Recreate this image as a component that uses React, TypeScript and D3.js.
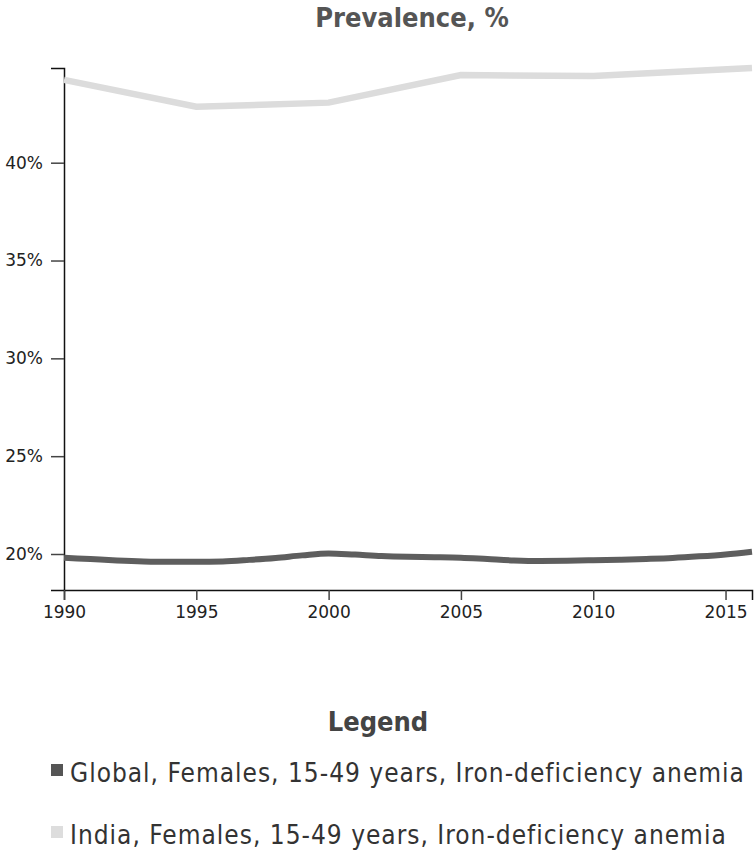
import React, { useEffect, useRef } from "react";
import * as d3 from "d3";

const years = [
  1990, 1991, 1992, 1993, 1994, 1995, 1996, 1997, 1998, 1999, 2000, 2001, 2002,
  2003, 2004, 2005, 2006, 2007, 2008, 2009, 2010, 2011, 2012, 2013, 2014, 2015,
  2016,
];
const globalValues = [
  19.81, 19.74, 19.67, 19.62, 19.6, 19.6, 19.62, 19.7, 19.8, 19.93, 20.03,
  19.97, 19.9, 19.86, 19.84, 19.81, 19.74, 19.67, 19.64, 19.65, 19.68, 19.71,
  19.75, 19.8, 19.88, 19.98, 20.12,
];
const indiaYears = [1990, 1995, 2000, 2005, 2010, 2016];
const indiaValues = [44.23, 42.86, 43.07, 44.48, 44.43, 44.84];

const yTicks = [20, 25, 30, 35, 40];
const xTicks = [1990, 1995, 2000, 2005, 2010, 2015];

const seriesNames = [
  "Global, Females, 15-49 years, Iron-deficiency anemia",
  "India, Females, 15-49 years, Iron-deficiency anemia",
];
const seriesColors = ["#5e5e5e", "#dcdcdc"];

export default function App() {
  const ref = useRef<SVGSVGElement>(null);

  useEffect(() => {
    const svg = d3.select(ref.current);
    svg.selectAll("*").remove();

    const margin = { top: 68, right: 4, bottom: 262, left: 64 };
    const width = 756;
    const height = 852;

    const x = d3
      .scaleLinear()
      .domain([1990, 2016])
      .range([margin.left, width - margin.right]);
    const y = d3
      .scaleLinear()
      .domain([18.16, 44.84])
      .range([height - margin.bottom, margin.top]);

    // title
    svg
      .append("text")
      .attr("x", 412)
      .attr("y", 27)
      .attr("text-anchor", "middle")
      .attr("font-family", "'Liberation Sans Narrow', 'DejaVu Sans Condensed', sans-serif")
      .attr("font-weight", "bold")
      .attr("font-size", 27)
      .attr("fill", "#555")
      .text("Prevalence, %");

    // y axis
    const yAxis = svg
      .append("g")
      .attr("transform", `translate(${margin.left},0)`)
      .call(
        d3
          .axisLeft(y)
          .tickValues(yTicks)
          .tickSize(13)
          .tickPadding(8)
          .tickFormat((d) => `${d}%`)
      );

    // x axis
    const xAxis = svg
      .append("g")
      .attr("transform", `translate(0,${height - margin.bottom})`)
      .call(
        d3
          .axisBottom(x)
          .tickValues(xTicks)
          .tickSize(10)
          .tickPadding(6)
          .tickFormat(d3.format("d"))
      );

    [yAxis, xAxis].forEach((g) => {
      g.select(".domain").attr("stroke", "#111").attr("stroke-width", 1.5);
      g.selectAll(".tick line").attr("stroke", "#444").attr("stroke-width", 1.5);
      g.selectAll(".tick text")
        .attr("font-family", "'DejaVu Sans', Verdana, sans-serif")
        .attr("font-size", 17)
        .attr("fill", "#222");
    });

    const line = d3
      .line<[number, number]>()
      .x((d) => x(d[0]))
      .y((d) => y(d[1]));

    svg
      .append("path")
      .datum(indiaYears.map((yr, i) => [yr, indiaValues[i]] as [number, number]))
      .attr("fill", "none")
      .attr("stroke", seriesColors[1])
      .attr("stroke-width", 6.5)
      .attr("d", line.curve(d3.curveLinear));

    svg
      .append("path")
      .datum(years.map((yr, i) => [yr, globalValues[i]] as [number, number]))
      .attr("fill", "none")
      .attr("stroke", seriesColors[0])
      .attr("stroke-width", 6)
      .attr("d", line.curve(d3.curveMonotoneX));

    // legend
    svg
      .append("text")
      .attr("x", width / 2)
      .attr("y", 731)
      .attr("text-anchor", "middle")
      .attr("font-family", "'Liberation Sans Narrow', 'DejaVu Sans Condensed', sans-serif")
      .attr("font-weight", "bold")
      .attr("font-size", 27)
      .attr("fill", "#444")
      .text("Legend");

    const items = svg
      .selectAll("g.legend-item")
      .data(seriesNames)
      .join("g")
      .attr("class", "legend-item")
      .attr("transform", (_, i) => `translate(51,${764 + i * 62})`);

    items
      .append("rect")
      .attr("width", 12)
      .attr("height", 12)
      .attr("fill", (_, i) => (i === 0 ? "#555" : "#ddd"));

    items
      .append("text")
      .attr("x", 19)
      .attr("y", 18)
      .attr("font-family", "'DejaVu Sans Condensed', 'DejaVu Sans', sans-serif")
      .attr("font-size", 26)
      .attr("letter-spacing", 1.0)
      .attr("fill", "#333")
      .text((d) => d);
  }, []);

  return (
    <svg
      ref={ref}
      width={756}
      height={852}
      style={{ position: "absolute", left: 0, top: 0, background: "#fff" }}
    />
  );
}
